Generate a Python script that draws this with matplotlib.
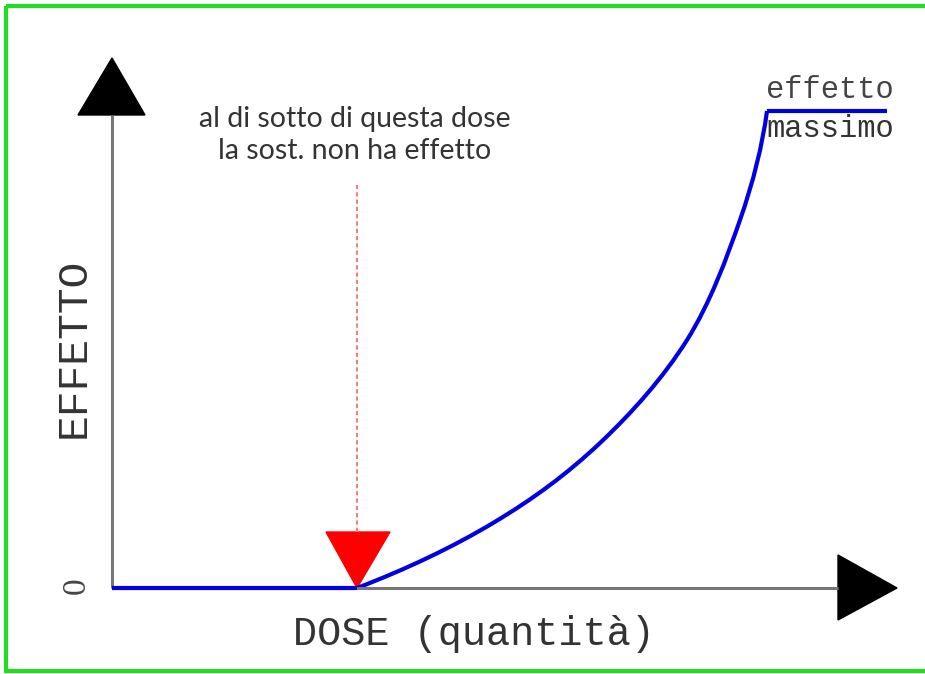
import numpy as np
import matplotlib.pyplot as plt
from matplotlib.patches import Polygon, Rectangle, PathPatch
from matplotlib.path import Path

# Diagramma dose-effetto (coordinate in pixel dell'immagine)
W, H = 925, 674

# curva blu: tratto nullo, salita, plateau
piatto_x = [112, 357]
piatto_y = [588, 588]
salita_x = [357, 493, 600, 687, 740, 767]
salita_y = [588, 523, 443, 340, 220, 111]
plateau_x = [767, 887]
plateau_y = [111, 111]

asse_x = [112, 838]   # asse orizzontale
asse_y = [588, 115]   # asse verticale
soglia_x = 357
soglia_y = [185, 532]

testo_soglia = "al di sotto di questa dose\nla sost. non ha effetto"
etichetta_x = "DOSE (quantità)"
etichetta_y = "EFFETTO"
etichetta_max = ["effetto", "massimo"]


def percorso_liscio(xs, ys):
    # catmull-rom -> bezier cubiche, passa per tutti i punti
    p = np.column_stack([xs, ys]).astype(float)
    n = len(p)
    t = np.zeros_like(p)
    t[1:-1] = (p[2:] - p[:-2]) / 6
    # estremi: punto fantasma estrapolato (quadratico)
    t[0] = (4 * p[1] - 3 * p[0] - p[2]) / 6
    t[-1] = (3 * p[-1] - 4 * p[-2] + p[-3]) / 6
    verts = [p[0]]
    for i in range(n - 1):
        verts += [p[i] + t[i], p[i + 1] - t[i + 1], p[i + 1]]
    codes = [Path.MOVETO] + [Path.CURVE4] * (3 * (n - 1))
    return Path(verts, codes)


fig = plt.figure(figsize=(W / 100, H / 100), dpi=100)
ax = fig.add_axes([0, 0, 1, 1])
ax.set_xlim(0, W)
ax.set_ylim(H, 0)
ax.axis('off')

# cornice verde
ax.add_patch(Rectangle((6, 6), W + 20, 665, fill=False, edgecolor='#22dd22', lw=3))

# assi grigi
ax.plot(asse_x, [588, 588], color='#777777', lw=2.2, solid_capstyle='butt')
ax.plot([112, 112], asse_y, color='#777777', lw=2.2, solid_capstyle='butt')

# frecce nere
ax.add_patch(Polygon([(78, 115), (145, 115), (112, 58)], closed=True, color='black'))
ax.add_patch(Polygon([(838, 555), (838, 620), (897, 588)], closed=True, color='black'))

# linea tratteggiata e triangolo rosso
ax.plot([soglia_x, soglia_x], soglia_y, color='#f08080', lw=1.5, ls=(0, (2, 1.5)))
ax.add_patch(Polygon([(326, 532), (390, 532), (soglia_x, 588)], closed=True, color='#ff0000'))

# curva
blu = '#0000e0'
ax.plot(piatto_x, piatto_y, color=blu, lw=3, solid_capstyle='butt')
ax.add_patch(PathPatch(percorso_liscio(salita_x, salita_y), facecolor='none',
                       edgecolor=blu, lw=3))
ax.plot(plateau_x, plateau_y, color=blu, lw=3, solid_capstyle='butt')

mono = 'Liberation Mono'
ax.text(355, 135, testo_soglia, ha='center', va='center', fontsize=20.5,
        family='Lato', color='#333333', linespacing=1.3)
ax.text(474, 634, etichetta_x, ha='center', va='center', fontsize=29,
        family=mono, color='#333333')
ax.text(74, 348, etichetta_y, ha='center', va='center', fontsize=31,
        family=mono, color='#333333', rotation=90)
ax.text(76, 586, "0", ha='center', va='center', fontsize=24, family='Liberation Serif',
        color='#444444', rotation=90)
ax.text(830, 90, etichetta_max[0], ha='center', va='center', fontsize=22,
        family=mono, color='#444444')
ax.text(830, 129, etichetta_max[1], ha='center', va='center', fontsize=22,
        family=mono, color='#333333')

fig.savefig('out.png', dpi=100)
